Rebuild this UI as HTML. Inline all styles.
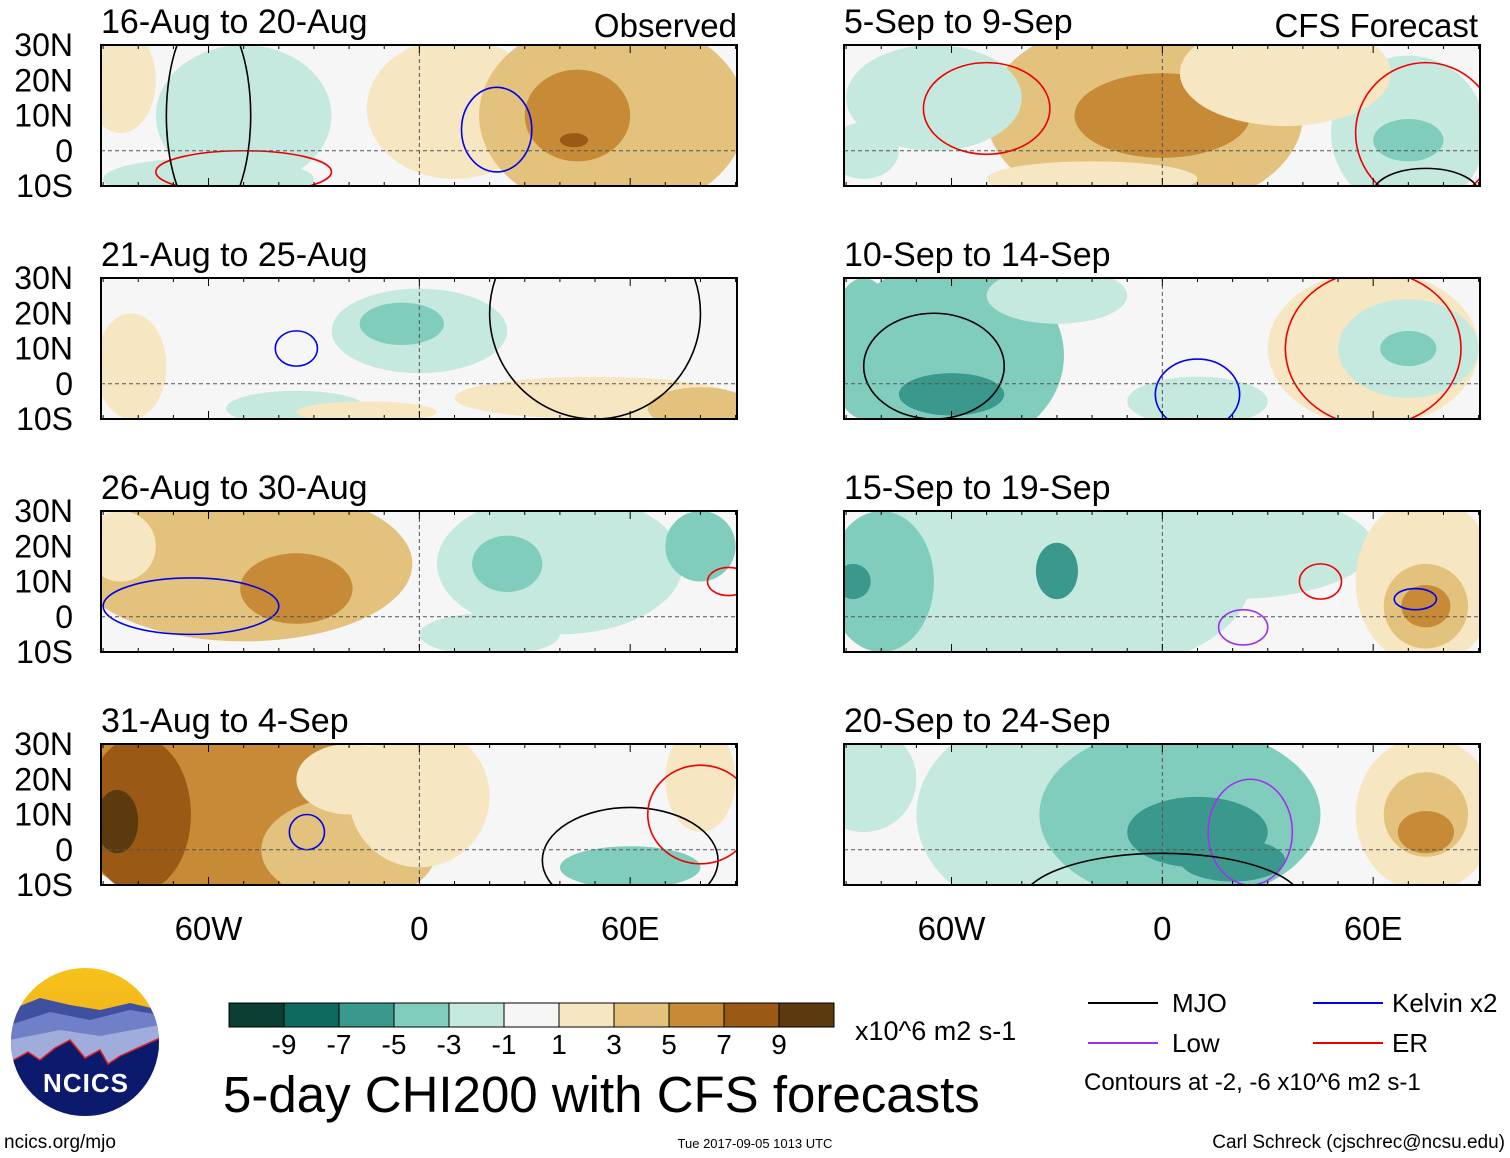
<!DOCTYPE html>
<html><head><meta charset="utf-8"><style>
html,body{margin:0;padding:0;background:#fff;}
svg{display:block;font-family:"Liberation Sans",sans-serif;}
</style></head><body>
<svg id="fig" width="1510" height="1158" viewBox="0 0 1510 1158" xmlns="http://www.w3.org/2000/svg">
<defs>
<linearGradient id="sun" x1="0" y1="0" x2="0" y2="1"><stop offset="0" stop-color="#f7c21a"/><stop offset="1" stop-color="#e8a020"/></linearGradient>
<clipPath id="logoclip"><circle cx="85" cy="1042" r="74"/></clipPath>
</defs>
<g id="panels"></g>
<g clip-path="url(#logoclip)">
<rect x="10" y="968" width="150" height="150" fill="url(#sun)"/>
<path d="M10 1010 L40 998 L70 1005 L100 1010 L130 1003 L160 1010 L160 1118 L10 1118Z" fill="#4050a0"/>
<path d="M10 1025 L50 1012 L90 1020 L130 1010 L160 1015 L160 1118 L10 1118Z" fill="#7080c8"/>
<path d="M10 1040 L60 1030 L100 1036 L160 1025 L160 1118 L10 1118Z" fill="#a0acdc"/>
<path d="M10 1062 L28 1052 L40 1060 L55 1048 L70 1040 L85 1058 L100 1050 L108 1064 L120 1056 L160 1038 L160 1118 L10 1118Z" fill="#0c1a6e" stroke="#e02020" stroke-width="1.5"/>
</g>
<text x="86" y="1092" text-anchor="middle" font-size="26" font-weight="bold" fill="#fff" letter-spacing="1">NCICS</text>
<text x="4" y="1148" font-size="19">ncics.org/mjo</text>
<g id="cbar"></g>
<text x="855" y="1040" font-size="27">x10^6 m2 s-1</text>
<text x="223" y="1112" font-size="51">5-day CHI200 with CFS forecasts</text>
<text x="755" y="1148" font-size="13" text-anchor="middle">Tue 2017-09-05 1013 UTC</text>
<text x="1505" y="1148" font-size="19" text-anchor="end">Carl Schreck (cjschrec@ncsu.edu)</text>
<g font-size="26">
<line x1="1088" y1="1003" x2="1158" y2="1003" stroke="#000" stroke-width="2"/>
<text x="1172" y="1012">MJO</text>
<line x1="1313" y1="1003" x2="1383" y2="1003" stroke="#0000ee" stroke-width="2"/>
<text x="1392" y="1012">Kelvin x2</text>
<line x1="1088" y1="1043" x2="1158" y2="1043" stroke="#a030f0" stroke-width="2"/>
<text x="1172" y="1052">Low</text>
<line x1="1313" y1="1043" x2="1383" y2="1043" stroke="#ee0000" stroke-width="2"/>
<text x="1392" y="1052">ER</text>
<text x="1084" y="1090" font-size="24">Contours at -2, -6 x10^6 m2 s-1</text>
</g>
</svg>
<script>
const levels=[-11,-9,-7,-5,-3,-1,1,3,5,7,9,11];
const levelColors=["#0b3d33","#0e6a5e","#3a998c","#80cdbd","#c6e9df","#f6f6f6","#f6e7c2","#e2c27c","#c78a36","#9a5a15","#5c3a0d"];
const tickLabels=["-9","-7","-5","-3","-1","1","3","5","7","9"];
const latTicks=[30,20,10,0,-10];
const latLabels=["30N","20N","10N","0","10S"];
const lonTicks=[-60,0,60];
const lonLabels=["60W","0","60E"];
const panelTitles=["16-Aug to 20-Aug","21-Aug to 25-Aug","26-Aug to 30-Aug","31-Aug to 4-Sep","5-Sep to 9-Sep","10-Sep to 14-Sep","15-Sep to 19-Sep","20-Sep to 24-Sep"];
// anomaly blobs: [lon, lat, lonRadius, latRadius, value]
const panelBlobs=[
[[-85,20,10,15,2],[-50,10,25,20,-2],[-60,-8,30,6,-2],[10,12,25,20,2],[55,10,38,28,4],[45,10,15,13,6],[44,3,4,2,8]],
[[-82,5,10,15,2],[0,15,25,12,-2],[-5,17,12,6,-4],[-35,-7,20,5,-2],[50,-4,40,6,2],[80,-7,15,6,4],[-15,-8,20,3,2]],
[[-50,15,48,22,4],[-85,20,10,10,2],[-35,8,16,10,6],[40,15,35,20,-2],[25,15,10,8,-4],[80,20,10,10,-4],[20,-5,20,6,-2]],
[[-55,12,48,28,6],[-80,10,15,22,8],[-86,8,6,9,10],[-20,0,25,15,4],[0,15,20,20,2],[-20,20,15,10,2],[60,-5,20,6,-4],[80,20,10,15,2]],
[[-5,10,45,28,4],[0,10,25,12,6],[-65,15,25,15,-2],[70,5,22,22,-2],[70,3,10,6,-4],[35,22,30,15,2],[-85,0,10,8,-2],[-20,-8,30,5,2]],
[[-60,8,32,27,-4],[-60,-3,15,6,-6],[-85,10,10,20,-4],[60,10,30,22,2],[70,10,20,14,-2],[70,10,8,5,-4],[10,-5,20,7,-2],[-30,25,20,8,-2]],
[[-35,10,60,28,-2],[-30,13,6,8,-6],[-80,10,15,20,-4],[-88,10,5,5,-6],[20,20,40,15,-2],[75,10,20,24,2],[75,3,12,12,4],[75,3,7,6,6]],
[[-30,10,40,30,-2],[5,10,40,25,-4],[10,5,20,10,-6],[20,-3,15,6,-6],[75,10,20,22,2],[75,10,12,12,4],[75,5,8,6,6],[-85,20,15,15,-2]]
];
// contours: [lon, lat, lonRadius, latRadius, type]
const panelContours=[
[[-50,-6,25,6,"er"],[22,6,10,12,"kelvin"],[-60,10,12,30,"mjo"]],
[[-35,10,6,5,"kelvin"],[50,20,30,30,"mjo"]],
[[-65,3,25,8,"kelvin"],[88,10,6,4,"er"]],
[[-32,5,5,5,"kelvin"],[60,-3,25,15,"mjo"],[80,10,15,14,"er"]],
[[-50,12,18,13,"er"],[75,5,20,20,"er"],[75,-12,15,7,"mjo"]],
[[60,10,25,22,"er"],[10,-3,12,10,"kelvin"],[-65,5,20,15,"mjo"]],
[[45,10,6,5,"er"],[23,-3,7,5,"low"],[72,5,6,3,"kelvin"]],
[[25,5,12,15,"low"],[0,-15,40,14,"mjo"]]
];
const contourColors={mjo:"#000",kelvin:"#0000ee",er:"#ee0000",low:"#a030f0"};
const NS="http://www.w3.org/2000/svg";
function mk(t,a,p){const e=document.createElementNS(NS,t);for(const k in a)e.setAttribute(k,a[k]);p.appendChild(e);return e;}
function colorFor(v){for(let i=0;i<levelColors.length;i++){if(v>=levels[i]&&v<levels[i+1])return levelColors[i];}return levelColors[5];}
const root=document.getElementById('panels');
const W=636,H=141;
const lefts=[101,844],tops=[45,278,511,744];
panelTitles.forEach((title,i)=>{
 const col=i<4?0:1,row=i%4;
 const x0=lefts[col],y0=tops[row];
 const xs=lon=>x0+(lon+90.6)*W/181;
 const ys=lat=>y0+(30-lat)*H/40;
 const g=mk('g',{},root);
 
 
 const cp=mk('clipPath',{id:'cp'+i},g);
 mk('rect',{x:x0,y:y0,width:W,height:H},cp);
 const inner=mk('g',{'clip-path':'url(#cp'+i+')'},g);
 mk('rect',{x:x0,y:y0,width:W,height:H,fill:levelColors[5]},inner);
 panelBlobs[i].forEach(b=>{
  const e=mk('ellipse',{cx:xs(b[0]),cy:ys(b[1]),rx:b[2]*W/181,ry:b[3]*H/40,fill:colorFor(b[4])},inner);
  
  
 });
 panelContours[i].forEach(c=>{
  const e=mk('ellipse',{cx:xs(c[0]),cy:ys(c[1]),rx:c[2]*W/181,ry:c[3]*H/40,fill:'none',stroke:contourColors[c[4]],'stroke-width':1.6},inner);
  
  
 });
 mk('line',{x1:x0,y1:ys(0),x2:x0+W,y2:ys(0),stroke:'#555','stroke-dasharray':'4,3','stroke-width':1},inner);
 mk('line',{x1:xs(0),y1:y0,x2:xs(0),y2:y0+H,stroke:'#555','stroke-dasharray':'4,3','stroke-width':1},inner);
 mk('rect',{x:x0,y:y0,width:W,height:H,fill:'none',stroke:'#000','stroke-width':2},g);
 for(let lon=-90;lon<=90;lon+=10){const L=lon%60===0?8:4;mk('line',{x1:xs(lon),y1:y0,x2:xs(lon),y2:y0+L,stroke:'#000'},g);mk('line',{x1:xs(lon),y1:y0+H,x2:xs(lon),y2:y0+H-L,stroke:'#000'},g);}
 const t=mk('text',{x:x0,y:y0-12,'font-size':34},g);t.textContent=title;
 
 
 if(col===0){latTicks.forEach((lt,k)=>{const tx=mk('text',{x:73,y:ys(lt)+11,'font-size':32,'text-anchor':'end'},g);tx.textContent=latLabels[k];
  
  });}
 if(row===3){lonTicks.forEach((ln,k)=>{const tx=mk('text',{x:xs(ln),y:940,'font-size':33,'text-anchor':'middle'},g);tx.textContent=lonLabels[k];
  
  });}
});
const tl=mk('text',{x:737,y:37,'font-size':33,'text-anchor':'end'},root);tl.textContent='Observed';


const tr=mk('text',{x:1478,y:37,'font-size':33,'text-anchor':'end'},root);tr.textContent='CFS Forecast';


const cb=document.getElementById('cbar');
const bw=55,bx=229,by=1003;
levelColors.forEach((c,i)=>{const r=mk('rect',{x:bx+i*bw,y:by,width:bw,height:24,fill:c,stroke:'#000','stroke-width':1},cb);
 
 });
tickLabels.forEach((l,i)=>{const t=mk('text',{x:bx+(i+1)*bw,y:1054,'font-size':28,'text-anchor':'middle'},cb);t.textContent=l;
 
 });
</script>
</body></html>
